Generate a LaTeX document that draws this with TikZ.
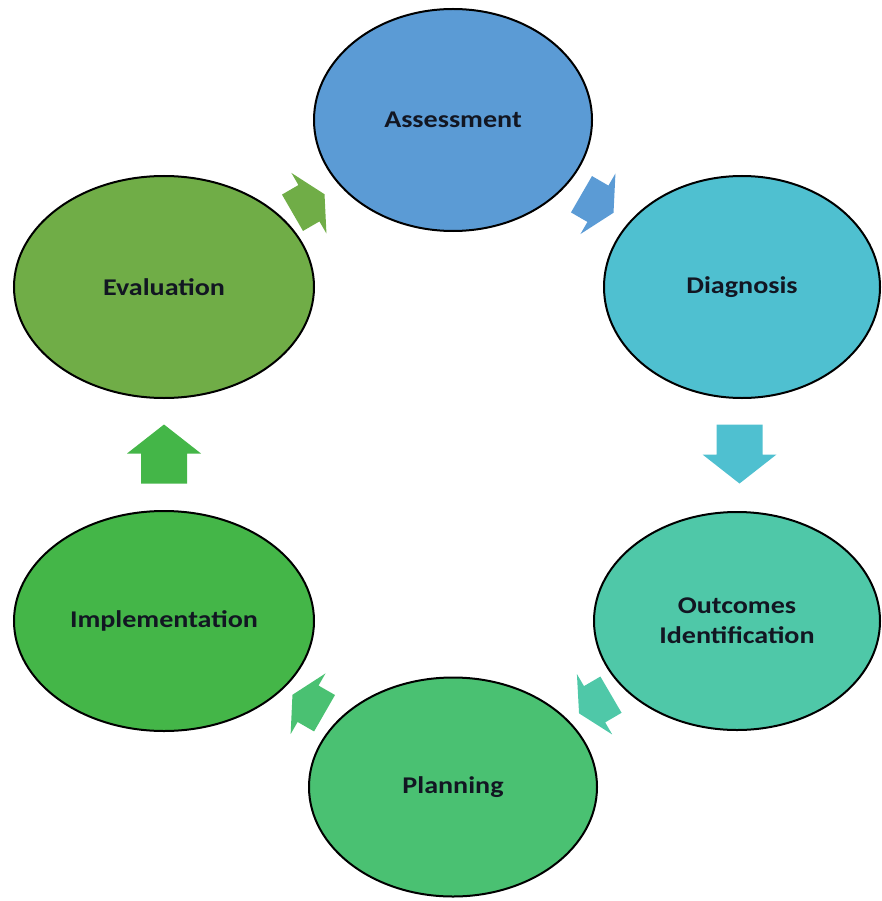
\documentclass[tikz,border=0pt]{standalone}
\usepackage{fontspec}
\setmainfont[FakeStretch=1.17]{Carlito}
\usetikzlibrary{shapes.geometric,calc}
\definecolor{cAssess}{RGB}{91,155,213}
\definecolor{cDiag}{RGB}{79,192,208}
\definecolor{cOut}{RGB}{79,200,168}
\definecolor{cPlan}{RGB}{74,193,114}
\definecolor{cImpl}{RGB}{68,182,72}
\definecolor{cEval}{RGB}{112,173,71}
\definecolor{txt}{RGB}{18,22,34}
\tikzset{
  phase/.style={ellipse, draw=black, line width=2pt, inner sep=0pt,
    font=\fontsize{24}{30}\selectfont\bfseries, text=txt, align=center},
  diagarrow/.pic={
    \fill[pic actions] (-18.5,-21) -- (0.5,-21) -- (0.5,-35) -- (18.5,0)
      -- (0.5,35) -- (0.5,21) -- (-18.5,21) -- cycle;
  },
  straightarrow/.pic={
    \fill[pic actions] (-29.5,-23) -- (0.5,-23) -- (0.5,-37) -- (29.5,0)
      -- (0.5,37) -- (0.5,23) -- (-29.5,23) -- cycle;
  }
}
\begin{document}
\begin{tikzpicture}[x=1pt,y=1pt]
\useasboundingbox (0,0) rectangle (881,-901);
\node[phase, fill=cAssess, minimum width=278pt, minimum height=222pt] (assess) at (453,-120) {Assessment};
\node[phase, fill=cDiag, minimum width=276pt, minimum height=222pt] (diag) at (742,-287) {Diagnosis};
\node[phase, fill=cOut, minimum width=286pt, minimum height=218pt] (out) at (737,-621) {Outcomes\\Identification};
\node[phase, fill=cPlan, minimum width=288pt, minimum height=219pt] (plan) at (453,-787) {Planning};
\node[phase, fill=cImpl, minimum width=300pt, minimum height=220pt] (impl) at (164,-621) {Implementation};
\node[phase, fill=cEval, minimum width=300pt, minimum height=222pt] (eval) at (164,-287) {Evaluation};

\path let \p1=($(assess)-(eval)$), \n1={atan2(\y1,\x1)} in
  pic[fill=cEval, rotate=\n1] at ($(eval)!0.5!(assess)$) {diagarrow};
\path let \p1=($(diag)-(assess)$), \n1={atan2(\y1,\x1)} in
  pic[fill=cAssess, rotate=\n1] at ($(assess)!0.5!(diag)$) {diagarrow};
\path pic[fill=cDiag, rotate=-90] at ($(diag)!0.5!(out)$) {straightarrow};
\path let \p1=($(plan)-(out)$), \n1={atan2(\y1,\x1)} in
  pic[fill=cOut, rotate=\n1] at ($(out)!0.5!(plan)$) {diagarrow};
\path let \p1=($(impl)-(plan)$), \n1={atan2(\y1,\x1)} in
  pic[fill=cPlan, rotate=\n1] at ($(plan)!0.5!(impl)$) {diagarrow};
\path pic[fill=cImpl, rotate=90] at ($(impl)!0.5!(eval)$) {straightarrow};
\end{tikzpicture}
\end{document}
